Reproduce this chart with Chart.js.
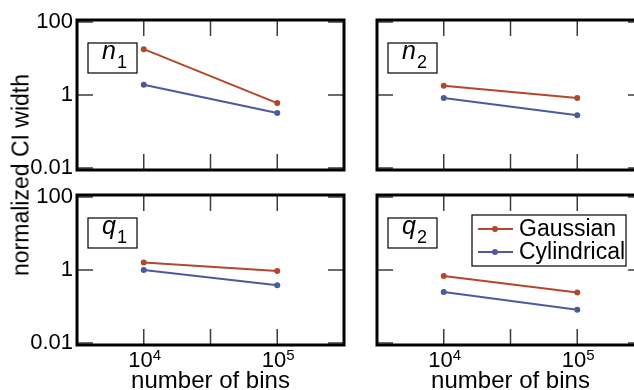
<!DOCTYPE html>
<html>
<head>
<meta charset="utf-8">
<script src="https://cdn.jsdelivr.net/npm/chart.js@4.4.1/dist/chart.umd.min.js"></script>
<style>
  body { margin: 0; background: #fff; width: 634px; height: 390px; overflow: hidden; position: relative;
         font-family: "Liberation Sans", Arial, sans-serif; }
  canvas { position: absolute; }
  #ytitle { position: absolute; left: 21px; top: 175px; transform: translate(-50%, -50%) rotate(-90deg);
            white-space: nowrap; font-size: 23px; color: #000; }
</style>
</head>
<body>
<canvas id="pn1" width="352" height="178" style="left:0px;top:0px"></canvas>
<canvas id="pn2" width="352" height="178" style="left:300px;top:0px"></canvas>
<canvas id="pq1" width="352" height="215" style="left:0px;top:175px"></canvas>
<canvas id="pq2" width="352" height="215" style="left:300px;top:175px"></canvas>
<div id="ytitle">normalized CI width</div>
<script>
// datos
var bins = [1e4, 1e5];
var n1Gauss = [18, 0.6];
var n1Cyl = [1.9, 0.32];
var n2Gauss = [1.8, 0.83];
var n2Cyl = [0.83, 0.28];
var q1Gauss = [1.6, 0.93];
var q1Cyl = [1.0, 0.38];
var q2Gauss = [0.68, 0.24];
var q2Cyl = [0.25, 0.081];

var yTicks = [0.01, 1, 100];
var yTickLabels = ['0.01', '1', '100'];
var xTicks = [1e4, 31623, 1e5];
var xTickBase = ['10', '', '10'];
var xTickExp = ['4', '', '5'];
var xTitle = 'number of bins';
var seriesNames = ['Gaussian', 'Cylindrical'];
var colGauss = '#b4462c';
var colCyl = '#4b5a9e';

var fuente = '"Liberation Sans", Arial, sans-serif';
Chart.defaults.font.family = fuente;
Chart.defaults.color = '#000';

// marco, ticks hacia adentro, etiqueta del panel y leyenda
var framePlugin = {
  id: 'frame',
  beforeDatasetsDraw: function(chart) {
    var ctx = chart.ctx, a = chart.chartArea, x = chart.scales.x, y = chart.scales.y;
    ctx.save();
    ctx.strokeStyle = '#3c3c3c';
    ctx.lineWidth = 1.5;
    ctx.beginPath();
    yTicks.forEach(function(v) {
      var py = y.getPixelForValue(v);
      ctx.moveTo(a.left, py); ctx.lineTo(a.left + 16, py);
      ctx.moveTo(a.right, py); ctx.lineTo(a.right - 16, py);
    });
    xTicks.forEach(function(v) {
      var px = x.getPixelForValue(v);
      ctx.moveTo(px, a.top); ctx.lineTo(px, a.top + 16);
      ctx.moveTo(px, a.bottom); ctx.lineTo(px, a.bottom - 16);
    });
    ctx.stroke();
    ctx.restore();
  },
  afterDraw: function(chart, args, opts) {
    var ctx = chart.ctx, a = chart.chartArea, x = chart.scales.x;
    ctx.save();
    ctx.strokeStyle = '#000';
    ctx.lineWidth = 3;
    ctx.strokeRect(a.left, a.top, a.width, a.height);

    // etiqueta n1, n2, q1, q2
    var bx = a.left + 11, by = a.top + 23;
    ctx.fillStyle = '#fff';
    ctx.fillRect(bx, by, 49, 30);
    ctx.lineWidth = 1.2;
    ctx.strokeRect(bx, by, 49, 30);
    ctx.fillStyle = '#000';
    ctx.textBaseline = 'alphabetic';
    ctx.font = 'italic 25px ' + fuente;
    ctx.fillText(opts.tag, bx + 14, by + 16);
    ctx.font = '18px ' + fuente;
    ctx.fillText(opts.sub, bx + 29, by + 25);

    // etiquetas 10^n del eje x
    if (opts.xLabels) {
      xTicks.forEach(function(v, i) {
        if (!xTickBase[i]) return;
        var px = x.getPixelForValue(v);
        ctx.font = '22px ' + fuente;
        var w1 = ctx.measureText(xTickBase[i]).width;
        ctx.font = '15px ' + fuente;
        var w2 = ctx.measureText(xTickExp[i]).width;
        var x0 = px - (w1 + w2) / 2 + 1;
        ctx.font = '22px ' + fuente;
        ctx.fillText(xTickBase[i], x0, a.bottom + 22);
        ctx.font = '15px ' + fuente;
        ctx.fillText(xTickExp[i], x0 + w1, a.bottom + 15);
      });
    }

    if (opts.legend) {
      var lx = a.left + 95, ly = a.top + 20;
      ctx.fillStyle = '#fff';
      ctx.fillRect(lx, ly, 154, 51);
      ctx.lineWidth = 1.2;
      ctx.strokeStyle = '#000';
      ctx.strokeRect(lx, ly, 154, 51);
      ctx.font = '23px ' + fuente;
      ctx.textBaseline = 'middle';
      chart.data.datasets.forEach(function(ds, i) {
        var cy = ly + 14 + i * 23;
        ctx.strokeStyle = ds.borderColor;
        ctx.lineWidth = 2;
        ctx.beginPath();
        ctx.moveTo(lx + 6, cy); ctx.lineTo(lx + 41, cy);
        ctx.stroke();
        ctx.fillStyle = ds.borderColor;
        ctx.beginPath();
        ctx.arc(lx + 23, cy, 3, 0, Math.PI * 2);
        ctx.fill();
        ctx.fillStyle = '#000';
        ctx.fillText(ds.label, lx + 47, cy + 1);
      });
    }
    ctx.restore();
  }
};

function puntos(vals) {
  return bins.map(function(b, i) { return { x: b, y: vals[i] }; });
}

function panel(id, tag, sub, gauss, cyl, showY, showX, showLegend) {
  var ctx = document.getElementById(id).getContext('2d');
  return new Chart(ctx, {
    type: 'line',
    data: {
      datasets: [
        { label: seriesNames[0], data: puntos(gauss), borderColor: colGauss, backgroundColor: colGauss,
          borderWidth: 2, pointRadius: 3, pointBorderWidth: 0 },
        { label: seriesNames[1], data: puntos(cyl), borderColor: colCyl, backgroundColor: colCyl,
          borderWidth: 2, pointRadius: 3, pointBorderWidth: 0 }
      ]
    },
    options: {
      responsive: false,
      animation: false,
      layout: { padding: { top: 20, right: 8, left: 0, bottom: 0 } },
      plugins: {
        legend: { display: false },
        tooltip: { enabled: false },
        frame: { tag: tag, sub: sub, legend: showLegend, xLabels: showX }
      },
      scales: {
        x: {
          type: 'logarithmic',
          min: 3162.3, max: 316228,
          bounds: 'data',
          grid: { display: false, drawTicks: false },
          border: { display: false },
          afterBuildTicks: function(s) { s.ticks = xTicks.map(function(v) { return { value: v }; }); },
          afterFit: function(s) {
            s.height = showX ? 45 : 8;
            s.paddingLeft = 0; s.paddingRight = 0;
          },
          ticks: { display: false },
          title: { display: showX, text: xTitle, font: { size: 24, lineHeight: 1.0 }, padding: { top: 0, bottom: -3 } }
        },
        y: {
          type: 'logarithmic',
          min: 0.0088, max: 113,
          bounds: 'data',
          grid: { display: false, drawTicks: false },
          border: { display: false },
          afterBuildTicks: function(s) { s.ticks = yTicks.map(function(v) { return { value: v }; }); },
          afterFit: function(s) {
            s.width = 77;
            s.paddingTop = 0; s.paddingBottom = 0;
          },
          ticks: {
            display: showY, autoSkip: false, padding: 4,
            font: { size: 22 },
            callback: function(v, i) { return yTickLabels[i]; }
          }
        }
      }
    },
    plugins: [framePlugin]
  });
}

panel('pn1', 'n', '1', n1Gauss, n1Cyl, true, false, false);
panel('pn2', 'n', '2', n2Gauss, n2Cyl, false, false, false);
panel('pq1', 'q', '1', q1Gauss, q1Cyl, true, true, false);
panel('pq2', 'q', '2', q2Gauss, q2Cyl, false, true, true);
</script>
</body>
</html>
